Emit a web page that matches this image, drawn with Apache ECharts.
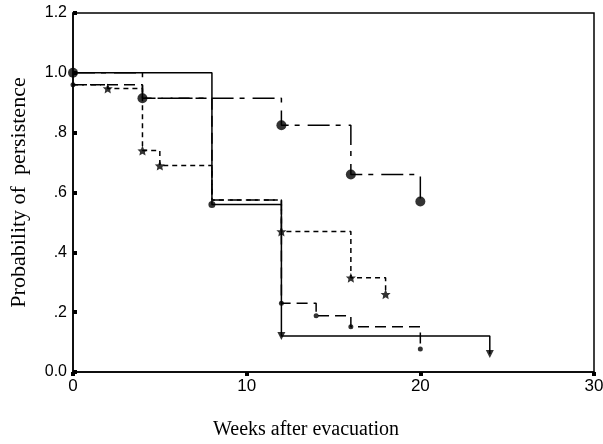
<!DOCTYPE html>
<html><head><meta charset="utf-8">
<script src="https://cdn.jsdelivr.net/npm/echarts@6/dist/echarts.min.js"></script>
<style>html,body{margin:0;padding:0;background:#fff}#c{width:603px;height:444px}</style>
</head><body><div id="c"></div>
<script>
// Kaplan-Meier step curves: event times (weeks) and survival after each event
const timesA = [0, 8, 12, 24];
const survA  = [1.0, 0.56, 0.12, 0.06];
const timesB = [0, 4, 12, 16, 20];
const survB  = [1.0, 0.915, 0.825, 0.66, 0.57];
const timesC = [0, 2, 4, 5, 8, 12, 16, 18];
const survC  = [0.96, 0.948, 0.74, 0.69, 0.575, 0.47, 0.315, 0.26];
const timesD = [0, 4, 8, 12, 14, 16, 20];
const survD  = [0.96, 0.915, 0.575, 0.23, 0.188, 0.151, 0.077];
// which points carry a marker
const markA_dot = [1];
const markA_tri = [2, 3];
const markB = [0, 1, 2, 3, 4];
const markC = [1, 2, 3, 5, 6, 7];
const markD = [0, 3, 4, 5, 6];
const xTickLabels = ['0', '10', '20', '30'];
const yTickLabels = ['0.0', '.2', '.4', '.6', '.8', '1.0', '1.2'];

const pts = (t, s) => t.map((x, i) => [x, s[i]]);
const sub = (t, s, m) => m.map(i => [t[i], s[i]]);
const star = 'path://M0,-10L2.9,-3.2L9.5,-3.1L4.6,1.5L5.9,8.1L0,4.6L-5.9,8.1L-4.6,1.5L-9.5,-3.1L-2.9,-3.2Z';

function lineS(data, dash) {
  return {type: 'line', data, step: 'end', showSymbol: false, silent: true,
    lineStyle: {color: '#000', width: 1.5, type: dash}, z: 3};
}
function markS(data, symbol, size, rot) {
  return {type: 'scatter', data, symbol, symbolSize: size, symbolRotate: rot || 0, silent: true,
    itemStyle: {color: '#000'}, z: 4};
}

const chart = echarts.init(document.getElementById('c'), null, {renderer: 'canvas'});
chart.setOption({
  animation: false,
  grid: {left: 73, top: 13, right: 9, bottom: 72, outerBoundsMode: 'none', containLabel: false,
    show: true, borderColor: '#000', borderWidth: 1.5, backgroundColor: 'transparent'},
  xAxis: {type: 'value', min: 0, max: 30, interval: 10,
    axisLine: {lineStyle: {color: '#000', width: 1.5}},
    axisTick: {length: 4, lineStyle: {color: '#000', width: 4}},
    splitLine: {show: false},
    axisLabel: {color: '#000', fontFamily: 'Liberation Sans', fontSize: 17, margin: 6,
      formatter: v => xTickLabels[Math.round(v / 10)]}
  },
  yAxis: {type: 'value', min: 0, max: 1.2, interval: 0.2,
    name: 'Probability of  persistence', nameLocation: 'middle', nameGap: 43,
    nameTextStyle: {color: '#000', fontFamily: 'Liberation Serif', fontSize: 22},
    axisLine: {show: true, lineStyle: {color: '#000', width: 1.5}},
    axisTick: {show: true, inside: true, length: 4, lineStyle: {color: '#000', width: 4}},
    splitLine: {show: false},
    axisLabel: {color: '#000', fontFamily: 'Liberation Sans', fontSize: 16, margin: 6,
      formatter: v => yTickLabels[Math.round(v / 0.2)]}
  },
  graphic: [{type: 'text', left: 213, top: 420,
    style: {text: 'Weeks after evacuation', fill: '#000', font: '20px "Liberation Serif"'}}],
  series: [
    lineS(pts(timesA, survA), 'solid'),
    lineS(pts(timesB, survB), [22, 6, 5, 8]),
    lineS(pts(timesC, survC), [5, 4]),
    lineS(pts(timesD, survD), [11, 6]),
    markS(sub(timesA, survA, markA_dot), 'circle', 7),
    markS(sub(timesA, survA, markA_tri), 'triangle', 8, 180),
    markS(sub(timesB, survB, markB), 'circle', 10),
    markS(sub(timesC, survC, markC), star, 10),
    markS(sub(timesD, survD, markD), 'circle', 5)
  ]
});
</script></body></html>
